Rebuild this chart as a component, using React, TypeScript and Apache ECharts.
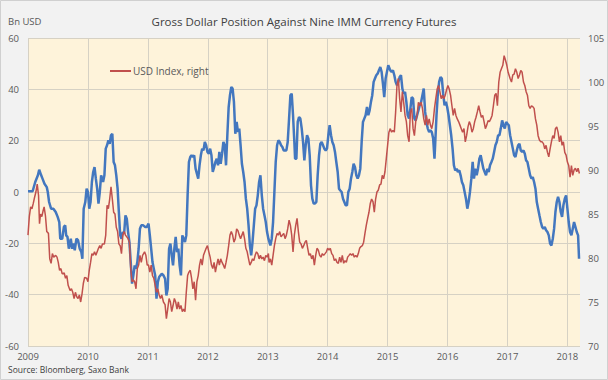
import React, { useEffect, useRef } from 'react';
import * as echarts from 'echarts';

const TITLE = 'Gross Dollar Position Against Nine IMM Currency Futures';
const LEFT_UNIT = 'Bn USD';
const SOURCE = 'Source: Bloomberg, Saxo Bank';
const USD_NAME = 'USD Index, right';
const NET_NAME = 'Gross dollar position';

// Gross dollar position (Bn USD, left axis): decimal years and values
const netYears = [
  2009.000, 2009.077, 2009.121, 2009.165, 2009.187, 2009.220, 2009.242, 2009.275, 2009.313, 2009.330,
  2009.352, 2009.385, 2009.423, 2009.462, 2009.495, 2009.522, 2009.538, 2009.571, 2009.599, 2009.621,
  2009.637, 2009.659, 2009.681, 2009.714, 2009.736, 2009.758, 2009.780, 2009.808, 2009.835, 2009.863,
  2009.890, 2009.907, 2009.929, 2009.956, 2009.978, 2010.000, 2010.022, 2010.044, 2010.066, 2010.088,
  2010.110, 2010.132, 2010.154, 2010.176, 2010.198, 2010.220, 2010.253, 2010.275, 2010.297, 2010.319,
  2010.341, 2010.363, 2010.385, 2010.407, 2010.429, 2010.451, 2010.473, 2010.495, 2010.516, 2010.538,
  2010.560, 2010.582, 2010.604, 2010.626, 2010.648, 2010.670, 2010.692, 2010.714, 2010.736, 2010.758,
  2010.780, 2010.802, 2010.824, 2010.846, 2010.868, 2010.890, 2010.923, 2010.956, 2010.983, 2011.011,
  2011.033, 2011.055, 2011.077, 2011.099, 2011.122, 2011.144, 2011.166, 2011.188, 2011.210, 2011.232,
  2011.260, 2011.287, 2011.309, 2011.331, 2011.354, 2011.376, 2011.398, 2011.420, 2011.442, 2011.464,
  2011.486, 2011.508, 2011.530, 2011.552, 2011.575, 2011.597, 2011.619, 2011.641, 2011.663, 2011.685,
  2011.707, 2011.729, 2011.751, 2011.773, 2011.796, 2011.818, 2011.840, 2011.862, 2011.884, 2011.906,
  2011.928, 2011.950, 2011.972, 2011.994, 2012.017, 2012.039, 2012.061, 2012.083, 2012.105, 2012.127,
  2012.149, 2012.171, 2012.193, 2012.215, 2012.238, 2012.260, 2012.282, 2012.304, 2012.326, 2012.348,
  2012.370, 2012.392, 2012.414, 2012.436, 2012.459, 2012.481, 2012.503, 2012.525, 2012.547, 2012.569,
  2012.591, 2012.613, 2012.635, 2012.657, 2012.680, 2012.702, 2012.724, 2012.746, 2012.768, 2012.790,
  2012.812, 2012.834, 2012.856, 2012.878, 2012.901, 2012.923, 2012.945, 2012.967, 2012.989, 2013.011,
  2013.044, 2013.067, 2013.089, 2013.111, 2013.133, 2013.156, 2013.178, 2013.200, 2013.222, 2013.244,
  2013.267, 2013.311, 2013.333, 2013.356, 2013.378, 2013.400, 2013.422, 2013.444, 2013.456, 2013.478,
  2013.500, 2013.522, 2013.544, 2013.567, 2013.589, 2013.611, 2013.633, 2013.656, 2013.678, 2013.700,
  2013.722, 2013.744, 2013.767, 2013.789, 2013.811, 2013.833, 2013.856, 2013.878, 2013.900, 2013.922,
  2013.944, 2013.967, 2013.989, 2014.011, 2014.033, 2014.056, 2014.078, 2014.100, 2014.122, 2014.144,
  2014.167, 2014.189, 2014.211, 2014.233, 2014.256, 2014.278, 2014.300, 2014.322, 2014.344, 2014.367,
  2014.389, 2014.411, 2014.433, 2014.456, 2014.478, 2014.500, 2014.522, 2014.544, 2014.567, 2014.589,
  2014.611, 2014.633, 2014.656, 2014.678, 2014.700, 2014.722, 2014.744, 2014.767, 2014.789, 2014.811,
  2014.833, 2014.856, 2014.878, 2014.900, 2014.922, 2014.944, 2014.967, 2014.989, 2015.011, 2015.045,
  2015.067, 2015.089, 2015.112, 2015.134, 2015.156, 2015.179, 2015.201, 2015.223, 2015.246, 2015.268,
  2015.291, 2015.313, 2015.335, 2015.358, 2015.380, 2015.402, 2015.425, 2015.447, 2015.469, 2015.492,
  2015.514, 2015.536, 2015.559, 2015.581, 2015.603, 2015.626, 2015.648, 2015.670, 2015.693, 2015.715,
  2015.737, 2015.760, 2015.782, 2015.793, 2015.816, 2015.838, 2015.860, 2015.883, 2015.905, 2015.927,
  2015.950, 2015.972, 2015.994, 2016.017, 2016.039, 2016.061, 2016.084, 2016.106, 2016.128, 2016.151,
  2016.173, 2016.196, 2016.218, 2016.240, 2016.263, 2016.285, 2016.307, 2016.330, 2016.352, 2016.374,
  2016.397, 2016.419, 2016.441, 2016.464, 2016.486, 2016.508, 2016.531, 2016.553, 2016.575, 2016.598,
  2016.620, 2016.642, 2016.665, 2016.687, 2016.709, 2016.732, 2016.754, 2016.777, 2016.799, 2016.821,
  2016.844, 2016.866, 2016.888, 2016.911, 2016.933, 2016.955, 2016.978, 2017.000, 2017.022, 2017.044,
  2017.067, 2017.089, 2017.111, 2017.133, 2017.156, 2017.178, 2017.200, 2017.222, 2017.244, 2017.267,
  2017.289, 2017.311, 2017.333, 2017.356, 2017.378, 2017.400, 2017.422, 2017.444, 2017.467, 2017.489,
  2017.511, 2017.533, 2017.556, 2017.578, 2017.600, 2017.622, 2017.644, 2017.667, 2017.689, 2017.711,
  2017.733, 2017.756, 2017.778, 2017.800, 2017.822, 2017.844, 2017.867, 2017.889, 2017.911, 2017.933,
  2017.956, 2017.978, 2018.000, 2018.022, 2018.044, 2018.067, 2018.089, 2018.111, 2018.133, 2018.156,
  2018.178, 2018.194,
];
const netValues = [
  0.3, 0.3, 3.9, 6.5, 8.7, 6.5, 5.2, 3.2, 1.9, 0,
  -3.9, -6.5, -6.5, -7.8, -9.7, -11.7, -18.2, -18.2, -13.6, -13.0,
  -16.9, -17.5, -22.1, -18.2, -22.1, -20.1, -22.7, -18.2, -18.8, -22.1,
  -23.4, -26.0, -6.5, -3.9, 1.3, 0, -6.5, -3.9, 3.9, 7.8,
  9.7, 5.2, 1.3, -4.5, 0, 6.5, 3.9, 6.5, 16.9, 18.2,
  20.1, 18.8, 22.1, 22.7, 11.7, 10.4, 6.5, 1.3, -7.8, -16.9,
  -18.2, -15.6, -16.2, -9.1, -10.4, -15.6, -19.5, -27.3, -35.7, -32.5,
  -28.6, -29.9, -27.3, -22.1, -14.3, -13.0, -13.0, -13.6, -13.6, -12.3,
  -16.9, -22.1, -27.3, -29.9, -32.5, -41.6, -35.1, -33.1, -32.5, -31.8,
  -32.5, -33.8, -40.3, -37.7, -22.1, -20.1, -24.7, -28.6, -22.1, -17.5,
  -23.4, -22.1, -28.6, -32.5, -16.9, -18.2, -19.5, -16.9, -1.3, 11.7,
  13.6, 14.3, 13.6, 14.3, 9.1, 7.1, 5.2, 10.4, 14.3, 16.9,
  16.2, 19.5, 18.2, 15.6, 14.9, 16.9, 14.3, 7.8, 9.7, 11.7,
  13.0, 10.4, 15.6, 11.0, 14.9, 19.5, 18.2, 10.4, 22.1, 33.1,
  37.7, 40.9, 40.3, 35.1, 22.7, 27.3, 23.4, 24.7, 18.2, 11.0,
  7.8, 3.9, -2.6, -6.5, -13.0, -20.8, -24.7, -19.5, -13.0, -6.5,
  -5.2, -1.3, 3.9, 6.5, -1.3, -6.5, -9.1, -11.7, -15.6, -18.2,
  -20.8, -18.2, -11.7, 0, 11.7, 18.2, 20.1, 19.5, 18.2, 17.5,
  16.2, 16.2, 19.5, 28.6, 37.7, 38.3, 29.9, 19.5, 13.0, 13.0,
  27.3, 29.2, 28.6, 24.7, 19.5, 12.3, 18.2, 22.1, 20.8, 14.3,
  2.6, -2.6, -4.5, -4.5, -3.9, 6.5, 14.3, 18.8, 19.5, 18.2,
  16.9, 16.2, 16.9, 22.1, 26.0, 22.1, 19.5, 18.2, 15.6, 11.7,
  7.8, 1.3, 0.6, 0, -2.6, -3.9, -5.2, -5.2, 0, 1.3,
  5.2, 7.8, 11.0, 9.7, 6.5, 5.2, 6.5, 9.1, 19.5, 27.3,
  28.6, 29.9, 33.1, 29.9, 31.8, 35.1, 37.7, 42.9, 44.2, 45.5,
  46.1, 47.4, 48.7, 46.8, 42.2, 37.0, 44.2, 46.8, 49.4, 47.4,
  46.8, 47.4, 45.5, 42.9, 41.6, 42.9, 44.8, 45.5, 40.3, 38.3,
  39.0, 35.1, 29.9, 28.6, 32.5, 37.0, 36.4, 28.6, 27.9, 29.9,
  31.8, 33.8, 35.1, 37.7, 40.3, 31.2, 27.3, 24.7, 23.4, 24.0,
  23.4, 20.8, 13.0, 18.2, 29.9, 38.3, 42.9, 44.8, 44.2, 38.3,
  33.8, 35.1, 33.1, 29.9, 26.0, 22.1, 16.9, 10.4, 8.4, 9.1,
  7.8, 8.4, 6.5, 3.9, 2.6, 0, -2.6, -6.5, -3.9, 0,
  5.2, 11.7, 5.2, 9.1, 6.5, 9.1, 13.0, 14.3, 11.7, 9.1,
  7.8, 6.5, 9.1, 7.8, 10.4, 11.7, 13.0, 15.6, 18.2, 19.5,
  22.1, 22.1, 24.7, 27.9, 26.0, 24.7, 27.3, 26.6, 26.0, 22.1,
  19.5, 16.9, 14.3, 13.6, 16.2, 18.2, 18.8, 16.2, 15.6, 16.2,
  14.9, 12.3, 11.7, 9.1, 6.5, 5.2, 5.8, 3.9, 1.3, -3.9,
  -6.5, -9.1, -11.7, -13.6, -14.3, -13.6, -14.9, -15.6, -16.9, -20.1,
  -20.8, -18.2, -14.3, -7.8, -3.9, -1.9, -3.9, -7.8, -9.7, -5.2,
  -2.6, -1.3, -6.5, -11.7, -15.6, -16.9, -14.3, -11.7, -13.6, -15.6,
  -16.9, -26.0,
];

// USD index (right axis): decimal years and values
const usdYears = [
  2009.000, 2009.022, 2009.044, 2009.066, 2009.088, 2009.110, 2009.132, 2009.154, 2009.176, 2009.192,
  2009.209, 2009.231, 2009.253, 2009.269, 2009.291, 2009.313, 2009.341, 2009.363, 2009.385, 2009.407,
  2009.429, 2009.462, 2009.484, 2009.505, 2009.527, 2009.549, 2009.571, 2009.604, 2009.626, 2009.648,
  2009.670, 2009.703, 2009.725, 2009.747, 2009.769, 2009.791, 2009.813, 2009.835, 2009.857, 2009.879,
  2009.901, 2009.923, 2009.945, 2009.978, 2010.000, 2010.022, 2010.044, 2010.066, 2010.088, 2010.110,
  2010.132, 2010.154, 2010.176, 2010.198, 2010.220, 2010.242, 2010.275, 2010.297, 2010.319, 2010.341,
  2010.363, 2010.385, 2010.407, 2010.429, 2010.451, 2010.473, 2010.495, 2010.516, 2010.538, 2010.560,
  2010.582, 2010.604, 2010.626, 2010.648, 2010.670, 2010.692, 2010.714, 2010.736, 2010.758, 2010.780,
  2010.802, 2010.824, 2010.846, 2010.868, 2010.890, 2010.912, 2010.945, 2010.967, 2010.989, 2011.011,
  2011.033, 2011.055, 2011.077, 2011.099, 2011.122, 2011.144, 2011.166, 2011.188, 2011.210, 2011.232,
  2011.260, 2011.287, 2011.309, 2011.331, 2011.354, 2011.376, 2011.398, 2011.420, 2011.442, 2011.464,
  2011.486, 2011.508, 2011.530, 2011.552, 2011.575, 2011.597, 2011.619, 2011.641, 2011.663, 2011.685,
  2011.707, 2011.729, 2011.751, 2011.773, 2011.796, 2011.818, 2011.840, 2011.862, 2011.884, 2011.906,
  2011.928, 2011.950, 2011.972, 2011.994, 2012.017, 2012.039, 2012.061, 2012.083, 2012.105, 2012.127,
  2012.149, 2012.171, 2012.193, 2012.215, 2012.238, 2012.260, 2012.282, 2012.304, 2012.326, 2012.348,
  2012.370, 2012.392, 2012.414, 2012.436, 2012.459, 2012.481, 2012.503, 2012.525, 2012.547, 2012.569,
  2012.591, 2012.613, 2012.635, 2012.657, 2012.680, 2012.702, 2012.724, 2012.746, 2012.768, 2012.790,
  2012.812, 2012.834, 2012.856, 2012.878, 2012.901, 2012.923, 2012.945, 2012.967, 2012.989, 2013.011,
  2013.022, 2013.044, 2013.067, 2013.089, 2013.111, 2013.133, 2013.156, 2013.178, 2013.200, 2013.222,
  2013.244, 2013.267, 2013.289, 2013.311, 2013.333, 2013.356, 2013.378, 2013.400, 2013.422, 2013.444,
  2013.467, 2013.489, 2013.511, 2013.533, 2013.556, 2013.578, 2013.600, 2013.622, 2013.644, 2013.667,
  2013.689, 2013.711, 2013.733, 2013.756, 2013.778, 2013.800, 2013.822, 2013.844, 2013.867, 2013.889,
  2013.911, 2013.933, 2013.956, 2013.978, 2014.000, 2014.022, 2014.044, 2014.067, 2014.089, 2014.111,
  2014.133, 2014.156, 2014.178, 2014.200, 2014.222, 2014.244, 2014.267, 2014.289, 2014.311, 2014.333,
  2014.356, 2014.378, 2014.400, 2014.422, 2014.444, 2014.467, 2014.489, 2014.511, 2014.533, 2014.556,
  2014.578, 2014.600, 2014.622, 2014.644, 2014.667, 2014.689, 2014.711, 2014.733, 2014.756, 2014.778,
  2014.800, 2014.822, 2014.844, 2014.867, 2014.889, 2014.911, 2014.933, 2014.956, 2014.978, 2015.000,
  2015.022, 2015.045, 2015.067, 2015.089, 2015.112, 2015.134, 2015.156, 2015.179, 2015.201, 2015.223,
  2015.246, 2015.268, 2015.291, 2015.313, 2015.335, 2015.358, 2015.380, 2015.402, 2015.425, 2015.447,
  2015.469, 2015.492, 2015.514, 2015.536, 2015.559, 2015.581, 2015.603, 2015.626, 2015.648, 2015.670,
  2015.693, 2015.715, 2015.737, 2015.760, 2015.782, 2015.804, 2015.827, 2015.849, 2015.872, 2015.894,
  2015.916, 2015.939, 2015.961, 2015.983, 2016.006, 2016.028, 2016.050, 2016.073, 2016.095, 2016.117,
  2016.140, 2016.162, 2016.184, 2016.207, 2016.229, 2016.251, 2016.274, 2016.296, 2016.318, 2016.341,
  2016.363, 2016.385, 2016.408, 2016.430, 2016.453, 2016.475, 2016.497, 2016.520, 2016.542, 2016.564,
  2016.587, 2016.609, 2016.631, 2016.654, 2016.676, 2016.698, 2016.721, 2016.743, 2016.765, 2016.788,
  2016.810, 2016.832, 2016.855, 2016.877, 2016.899, 2016.922, 2016.944, 2016.966, 2016.989, 2017.011,
  2017.022, 2017.044, 2017.067, 2017.089, 2017.111, 2017.133, 2017.156, 2017.178, 2017.200, 2017.222,
  2017.244, 2017.267, 2017.289, 2017.311, 2017.333, 2017.356, 2017.378, 2017.400, 2017.422, 2017.444,
  2017.467, 2017.489, 2017.511, 2017.533, 2017.556, 2017.578, 2017.600, 2017.622, 2017.644, 2017.667,
  2017.689, 2017.711, 2017.733, 2017.756, 2017.778, 2017.800, 2017.822, 2017.844, 2017.867, 2017.889,
  2017.911, 2017.933, 2017.956, 2017.978, 2018.000, 2018.022, 2018.044, 2018.067, 2018.089, 2018.111,
  2018.133, 2018.156, 2018.178, 2018.200,
];
const usdValues = [
  82.6, 84.7, 85.8, 85.6, 86.2, 86.9, 87.5, 88.4, 87.1, 83.9,
  85.0, 84.7, 85.4, 85.8, 84.8, 83.0, 82.8, 79.9, 79.4, 80.5,
  80.1, 80.3, 80.1, 79.5, 78.6, 78.8, 78.2, 78.3, 77.7, 78.0,
  76.9, 76.3, 76.5, 76.1, 75.4, 76.1, 75.6, 75.4, 75.8, 75.0,
  75.9, 77.1, 77.8, 77.7, 77.3, 78.6, 79.5, 80.5, 80.3, 80.7,
  80.3, 80.7, 81.1, 81.4, 81.1, 81.6, 81.6, 82.6, 86.0, 85.6,
  86.7, 88.1, 86.7, 85.2, 85.0, 83.5, 83.0, 81.6, 81.4, 80.5,
  82.6, 83.0, 82.6, 82.4, 82.2, 81.8, 78.8, 77.3, 77.5, 77.3,
  76.5, 78.8, 79.2, 80.3, 79.5, 80.3, 80.7, 80.3, 79.2, 79.2,
  78.4, 79.2, 78.0, 77.7, 76.9, 76.1, 76.5, 75.8, 75.4, 75.8,
  75.0, 74.7, 73.1, 74.2, 75.4, 75.0, 73.9, 74.6, 75.4, 75.0,
  74.2, 75.0, 74.2, 74.6, 73.9, 74.2, 73.9, 76.1, 78.0, 78.4,
  78.6, 77.7, 76.5, 77.3, 75.2, 77.3, 78.0, 79.2, 79.9, 79.2,
  80.3, 80.7, 81.1, 81.4, 80.7, 80.1, 79.2, 78.8, 79.5, 78.4,
  79.2, 79.9, 79.2, 79.9, 79.5, 79.2, 78.8, 79.5, 80.3, 81.4,
  82.6, 83.0, 82.6, 81.8, 82.2, 83.3, 83.1, 82.6, 82.2, 82.6,
  83.0, 82.2, 81.1, 80.7, 79.9, 79.2, 79.5, 79.9, 79.7, 80.3,
  80.7, 80.5, 79.9, 80.3, 79.9, 80.1, 79.7, 80.3, 80.1, 80.5,
  79.5, 79.9, 79.2, 80.3, 81.4, 82.2, 82.8, 82.6, 83.0, 82.4,
  82.6, 82.8, 82.2, 82.6, 83.3, 84.3, 83.7, 82.6, 80.7, 82.6,
  83.7, 84.5, 83.0, 81.8, 81.6, 81.1, 81.4, 81.8, 82.0, 81.1,
  80.3, 80.5, 79.9, 80.3, 79.2, 80.3, 81.1, 80.9, 80.3, 80.1,
  80.5, 80.3, 80.5, 80.7, 81.1, 80.9, 81.1, 80.5, 80.3, 79.7,
  79.9, 79.5, 79.4, 80.1, 79.5, 80.3, 79.4, 79.7, 79.5, 80.1,
  80.3, 80.5, 80.3, 80.5, 80.1, 80.3, 80.1, 80.5, 81.1, 81.3,
  81.4, 81.8, 82.8, 83.7, 84.5, 85.2, 86.2, 86.7, 86.4, 85.2,
  86.7, 87.5, 87.7, 88.3, 88.4, 89.4, 89.0, 89.8, 91.3, 92.8,
  94.3, 94.7, 94.3, 94.5, 94.3, 96.6, 99.6, 100.4, 98.1, 96.6,
  98.9, 97.7, 96.2, 95.5, 93.9, 93.2, 96.6, 97.0, 94.7, 93.9,
  95.5, 96.2, 97.7, 97.3, 97.7, 97.0, 95.8, 95.1, 96.2, 95.1,
  95.8, 95.1, 94.7, 95.5, 97.0, 98.1, 99.2, 99.6, 98.9, 98.1,
  98.5, 98.1, 98.5, 99.1, 99.6, 99.2, 98.5, 97.3, 96.2, 97.0,
  96.2, 95.8, 95.5, 95.1, 94.7, 94.3, 94.7, 93.2, 93.9, 94.9,
  95.5, 95.1, 94.3, 94.7, 95.5, 96.0, 96.6, 97.3, 96.6, 96.0,
  96.2, 95.5, 94.7, 95.1, 95.6, 95.5, 95.8, 96.2, 97.3, 98.5,
  98.7, 97.3, 100.0, 101.1, 101.5, 101.9, 103.0, 102.5, 101.9, 101.1,
  101.1, 100.4, 100.0, 100.8, 100.9, 101.5, 101.1, 100.4, 100.8, 101.3,
  101.1, 100.0, 99.6, 98.9, 98.5, 97.3, 97.0, 97.3, 97.2, 97.0,
  95.8, 95.1, 93.9, 93.4, 93.2, 93.2, 93.0, 92.4, 92.8, 92.0,
  91.5, 92.4, 93.2, 93.9, 93.6, 94.7, 94.9, 94.3, 93.2, 93.9,
  92.8, 93.2, 92.0, 91.7, 90.9, 90.5, 89.2, 90.5, 89.4, 90.0,
  90.2, 89.8, 90.2, 89.6,
];

// Axis ranges
const X_MIN = 2009;
const X_MAX = 2018.21;
const LEFT_MIN = -60;
const LEFT_MAX = 60;
const LEFT_STEP = 20;
const RIGHT_MIN = 70;
const RIGHT_MAX = 105;
const RIGHT_STEP = 5;

const FONT = 'Open Sans';
const BLUE = '#4377bf';
const RED = '#c0504d';
const GRID_COLOR = '#d6d1c4';
const LABEL_COLOR = '#595959';

export default function App() {
  const ref = useRef<HTMLDivElement>(null);
  useEffect(() => {
    if (!ref.current) return;
    const chart = echarts.init(ref.current, null, { renderer: 'svg' });
    const netData = netYears.map((y, i) => [y, netValues[i]]);
    const usdData = usdYears.map((y, i) => [y, usdValues[i]]);
    chart.setOption({
      animation: false,
      backgroundColor: '#f2f2f2',
      textStyle: { fontFamily: FONT },
      title: {
        text: TITLE,
        left: 'center',
        top: 9,
        textStyle: { fontSize: 11.5, fontWeight: 'normal', color: '#404040', fontFamily: FONT, lineHeight: 15 },
      },
      legend: {
        data: [USD_NAME],
        left: 105,
        top: 61,
        icon: 'rect',
        itemWidth: 21,
        itemHeight: 2,
        textStyle: { fontSize: 10, color: LABEL_COLOR, fontFamily: FONT, padding: [0, 0, 0, -3] },
      },
      grid: {
        left: 28,
        right: 28,
        top: 38,
        bottom: 34,
        show: true,
        backgroundColor: '#fef3da',
        borderWidth: 0,
      },
      xAxis: {
        type: 'value',
        min: X_MIN,
        max: X_MAX,
        interval: 1,
        axisLine: { show: false },
        axisTick: { show: false },
        axisLabel: {
          fontSize: 9.5,
          color: LABEL_COLOR,
          fontFamily: FONT,
          margin: 5,
          showMaxLabel: false,
          formatter: (v: number) => String(Math.round(v)),
        },
        splitLine: { show: true, showMaxLine: false, lineStyle: { color: GRID_COLOR, width: 1 } },
      },
      yAxis: [
        {
          type: 'value',
          min: LEFT_MIN,
          max: LEFT_MAX,
          interval: LEFT_STEP,
          axisLine: { show: false },
          axisTick: { show: false },
          axisLabel: { fontSize: 9.5, color: LABEL_COLOR, fontFamily: FONT, margin: 9 },
          splitLine: { show: true, lineStyle: { color: GRID_COLOR, width: 1 } },
        },
        {
          type: 'value',
          min: RIGHT_MIN,
          max: RIGHT_MAX,
          interval: RIGHT_STEP,
          position: 'right',
          axisLine: { show: false },
          axisTick: { show: false },
          axisLabel: { fontSize: 9.5, color: LABEL_COLOR, fontFamily: FONT, margin: 8 },
          splitLine: { show: false },
        },
      ],
      graphic: [
        {
          type: 'rect',
          shape: { x: 0.5, y: 0.5, width: 607, height: 379 },
          style: { fill: 'none', stroke: '#d0d0d0', lineWidth: 1 },
          silent: true,
        },
        {
          type: 'text',
          left: 8,
          top: 16,
          style: { text: LEFT_UNIT, fontSize: 9.5, fill: LABEL_COLOR, fontFamily: FONT },
        },
        {
          type: 'text',
          left: 8,
          top: 365,
          style: { text: SOURCE, fontSize: 8.5, fill: '#404040', fontFamily: FONT },
        },
      ],
      series: [
        {
          name: NET_NAME,
          type: 'line',
          data: netData,
          yAxisIndex: 0,
          symbol: 'none',
          showSymbol: false,
          lineStyle: { color: BLUE, width: 2.5 },
          itemStyle: { color: BLUE },
          z: 2,
        },
        {
          name: USD_NAME,
          type: 'line',
          data: usdData,
          yAxisIndex: 1,
          symbol: 'none',
          showSymbol: false,
          lineStyle: { color: RED, width: 1.5 },
          itemStyle: { color: RED },
          z: 3,
        },
      ],
    });
    return () => chart.dispose();
  }, []);
  return <div ref={ref} style={{ position: 'absolute', left: 0, top: 0, width: 608, height: 380 }} />;
}
